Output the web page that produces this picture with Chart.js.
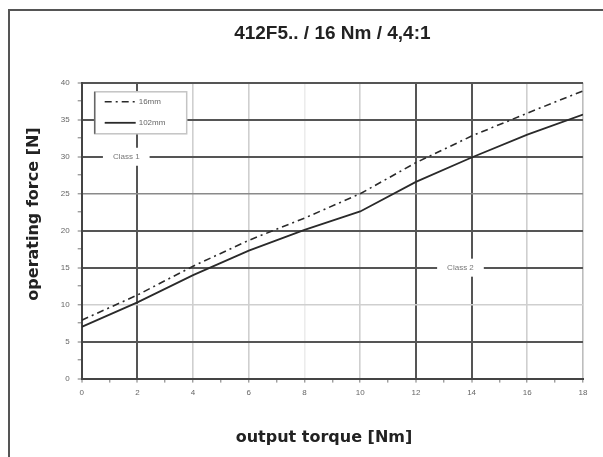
<!DOCTYPE html>
<html><head><meta charset="utf-8">
<script src="https://cdn.jsdelivr.net/npm/chart.js@4.4.1/dist/chart.umd.min.js"></script>
<style>
html,body{margin:0;padding:0;background:#fff;overflow:hidden;}
#wrap{position:relative;width:603px;height:457px;overflow:hidden;}
#frame{position:absolute;left:8px;top:9px;width:700px;height:600px;border-left:2px solid #555;border-top:2px solid #555;}
canvas{position:absolute;left:0;top:0;}
</style></head><body>
<div id="wrap"><div id="frame"></div><canvas id="c" width="603" height="457"></canvas></div>
<script>
// ---- data ----
const torque = [0, 2, 4, 6, 8, 10, 12, 14, 16, 18];
const forceA = [7.9, 11.3, 15.2, 18.7, 21.7, 25.0, 29.2, 32.8, 35.9, 38.9];
const forceB = [7.0, 10.3, 14.0, 17.3, 20.1, 22.6, 26.6, 29.9, 33.0, 35.7];
const seriesLabels = ['16mm', '102mm'];
const xTickLabels = [0, 2, 4, 6, 8, 10, 12, 14, 16, 18];
const yTickLabels = [0, 5, 10, 15, 20, 25, 30, 35, 40];
const classNames = ['Class 1', 'Class 2'];
const classForces = [30, 15];
const chartTitle = '412F5.. / 16 Nm / 4,4:1';
const xTitle = 'output torque [Nm]';
const yTitle = 'operating force [N]';

// ---- styling (not data) ----
const classLabelAt = [1.6, 13.6];
const DARK = '#555', MED = '#8a8a8a', LIGHT = '#cfcfcf';
const yGridStyle = {0: DARK, 5: DARK, 10: LIGHT, 15: DARK, 20: DARK, 25: MED, 30: DARK, 35: DARK, 40: DARK};
const xGridStyle = {0: DARK, 2: DARK, 4: LIGHT, 6: LIGHT, 8: '#ececec', 10: LIGHT, 12: DARK, 14: DARK, 16: LIGHT, 18: '#bdbdbd'};
const AXIS_FONT = "'DejaVu Sans', Verdana, sans-serif";
const SHIFT = '\u00a0\u00a0\u00a0';

Chart.defaults.font.family = "'Liberation Sans', Arial, sans-serif";

function gridColor(map, labels) {
  return ctx => {
    const v = Math.round(ctx.tick.value * 100) / 100;
    if (!labels.includes(v)) return 'rgba(0,0,0,0)';
    return map[v] || LIGHT;
  };
}
function gridWidth(map) {
  return ctx => {
    const v = Math.round(ctx.tick.value * 100) / 100;
    return map[v] === DARK ? 2 : 1.6;
  };
}

const overlay = {
  id: 'overlay',
  beforeDatasetsDraw(chart) {
    const {ctx, scales: {x, y}} = chart;
    ctx.save();
    ctx.font = "8px 'Liberation Sans', Arial, sans-serif";
    ctx.textAlign = 'center';
    ctx.textBaseline = 'middle';
    classNames.forEach((name, i) => {
      const px = x.getPixelForValue(classLabelAt[i]);
      const py = y.getPixelForValue(classForces[i]);
      const w = ctx.measureText(name).width + 20;
      ctx.fillStyle = '#fff';
      ctx.fillRect(px - w / 2, py - 9, w, 18);
      ctx.fillStyle = '#777';
      ctx.fillText(name, px, py);
    });
    ctx.restore();
  },
  afterDatasetsDraw(chart) {
    const {ctx, chartArea: a} = chart;
    const bx = a.left + 13, by = a.top + 9, bw = 92, bh = 42;
    ctx.save();
    ctx.fillStyle = '#fff';
    ctx.fillRect(bx, by, bw, bh);
    ctx.strokeStyle = '#c4c4c4';
    ctx.lineWidth = 1.5;
    ctx.strokeRect(bx, by, bw, bh);
    ctx.strokeStyle = '#666';
    ctx.beginPath(); ctx.moveTo(bx, by); ctx.lineTo(bx, by + bh); ctx.stroke();
    ctx.font = "8px 'Liberation Sans', Arial, sans-serif";
    ctx.textBaseline = 'middle';
    chart.data.datasets.forEach((ds, i) => {
      const ly = by + 10 + i * 21;
      ctx.strokeStyle = ds.borderColor;
      ctx.lineWidth = ds.borderWidth;
      ctx.setLineDash(ds.borderDash || []);
      ctx.beginPath(); ctx.moveTo(bx + 10, ly); ctx.lineTo(bx + 41, ly); ctx.stroke();
      ctx.setLineDash([]);
      ctx.fillStyle = '#666';
      ctx.fillText(ds.label, bx + 44, ly);
    });
    ctx.restore();
  }
};

new Chart(document.getElementById('c'), {
  type: 'line',
  data: {
    datasets: [
      {label: seriesLabels[0], data: torque.map((t, i) => ({x: t, y: forceA[i]})),
       borderColor: '#2a2a2a', borderWidth: 1.6, borderDash: [7, 4, 2, 4], pointRadius: 0, tension: 0, fill: false},
      {label: seriesLabels[1], data: torque.map((t, i) => ({x: t, y: forceB[i]})),
       borderColor: '#2a2a2a', borderWidth: 1.8, pointRadius: 0, tension: 0, fill: false}
    ]
  },
  options: {
    responsive: false, animation: false,
    layout: {padding: {left: 10, right: 20, top: 10, bottom: 10}},
    plugins: {
      legend: {display: false}, tooltip: {enabled: false},
      title: {display: true, fullSize: false, text: chartTitle, color: '#222',
              font: {size: 19, weight: 'bold'}, padding: {top: 12, bottom: 38}}
    },
    scales: {
      x: {
        type: 'linear', min: 0, max: 18,
        ticks: {stepSize: 1, autoSkip: false, maxRotation: 0, color: '#666', font: {size: 8}, padding: 5,
                callback: v => xTickLabels.includes(v) ? String(v) : ''},
        grid: {color: gridColor(xGridStyle, xTickLabels), lineWidth: gridWidth(xGridStyle),
               drawTicks: true, tickLength: 4, tickColor: '#777', tickWidth: 1},
        border: {color: '#444', width: 2},
        title: {display: true, text: xTitle + SHIFT, color: '#222', font: {family: AXIS_FONT, size: 16, weight: 'bold'}, padding: {top: 25.6, bottom: 0}}
      },
      y: {
        min: 0, max: 40,
        ticks: {stepSize: 2.5, autoSkip: false, color: '#666', font: {size: 8}, padding: 8,
                callback: v => yTickLabels.includes(v) ? String(v) : ''},
        grid: {color: gridColor(yGridStyle, yTickLabels), lineWidth: gridWidth(yGridStyle),
               drawTicks: true, tickLength: 4, tickColor: '#777', tickWidth: 1},
        border: {color: '#444', width: 2},
        title: {display: true, text: SHIFT + SHIFT + yTitle, color: '#222', font: {family: AXIS_FONT, size: 16, weight: 'bold'}, padding: {top: 14, bottom: 9.6}}
      }
    }
  },
  plugins: [overlay]
});
</script>
</body></html>
